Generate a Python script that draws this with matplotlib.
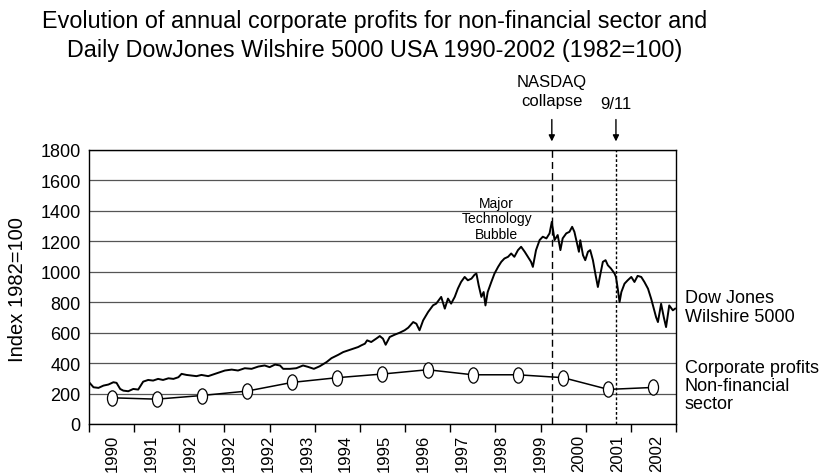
import numpy as np
import matplotlib
matplotlib.use("Agg")
import matplotlib.pyplot as plt
from matplotlib.path import Path

plt.rcParams["font.family"] = ["Liberation Sans", "DejaVu Sans"]

# Daily DowJones Wilshire 5000 (1982=100) (decimal years)
dow_year = [1990.02, 1990.10, 1990.21, 1990.32, 1990.43, 1990.54, 1990.61, 1990.69, 1990.76, 1990.87,
            1990.98, 1991.09, 1991.20, 1991.31, 1991.42, 1991.53, 1991.64, 1991.76, 1991.87, 1991.98,
            1992.05, 1992.16, 1992.27, 1992.38, 1992.49, 1992.64, 1992.79, 1992.90, 1993.01, 1993.16,
            1993.30, 1993.45, 1993.60, 1993.75, 1993.89, 1994.00, 1994.12, 1994.23, 1994.30, 1994.45,
            1994.59, 1994.74, 1994.85, 1994.98, 1995.11, 1995.26, 1995.37, 1995.52, 1995.63, 1995.74,
            1995.85, 1995.96, 1996.03, 1996.11, 1996.16, 1996.25, 1996.36, 1996.44, 1996.51, 1996.57,
            1996.66, 1996.77, 1996.88, 1996.99, 1997.07, 1997.18, 1997.25, 1997.32, 1997.40, 1997.51,
            1997.62, 1997.69, 1997.80, 1997.88, 1997.95, 1998.02, 1998.10, 1998.17, 1998.24, 1998.32,
            1998.39, 1998.47, 1998.54, 1998.58, 1998.63, 1998.69, 1998.74, 1998.78, 1998.83, 1998.91,
            1998.98, 1999.06, 1999.13, 1999.20, 1999.28, 1999.35, 1999.42, 1999.50, 1999.57, 1999.65,
            1999.72, 1999.79, 1999.83, 1999.90, 1999.98, 2000.05, 2000.13, 2000.20, 2000.25, 2000.31,
            2000.38, 2000.44, 2000.49, 2000.57, 2000.64, 2000.70, 2000.75, 2000.80, 2000.85, 2000.88,
            2000.94, 2000.99, 2001.05, 2001.10, 2001.16, 2001.22, 2001.27, 2001.32, 2001.38, 2001.44,
            2001.49, 2001.56, 2001.64, 2001.67, 2001.71, 2001.75, 2001.79, 2001.86, 2001.93, 2002.01,
            2002.08, 2002.15, 2002.23, 2002.30, 2002.38, 2002.45, 2002.52, 2002.56, 2002.60, 2002.67,
            2002.73, 2002.78, 2002.85, 2002.93, 2002.98]
dow_value = [268, 241, 237, 252, 259, 274, 270, 230, 219, 215,
             230, 226, 278, 289, 285, 296, 289, 300, 296, 307,
             329, 322, 318, 314, 322, 314, 329, 340, 351, 357,
             351, 366, 362, 377, 384, 373, 390, 384, 362, 362,
             366, 384, 375, 362, 379, 406, 432, 454, 472, 483,
             494, 505, 516, 527, 549, 538, 560, 577, 560, 520,
             571, 586, 599, 615, 632, 669, 658, 615, 680, 735,
             779, 790, 834, 757, 823, 790, 834, 889, 932, 965,
             943, 954, 980, 987, 910, 834, 866, 778, 866, 932,
             987, 1031, 1064, 1086, 1097, 1119, 1097, 1141, 1163, 1130,
             1097, 1064, 1031, 1141, 1207, 1229, 1218, 1251, 1327, 1207,
             1240, 1141, 1218, 1251, 1261, 1294, 1261, 1195, 1130, 1206,
             1108, 1075, 1130, 1141, 1075, 976, 899, 976, 1064, 1075,
             1042, 1020, 987, 965, 888, 800, 866, 921, 943, 965,
             932, 972, 965, 932, 888, 822, 746, 700, 669, 789,
             700, 636, 778, 746, 757]

# annual corporate profits, non-financial sector (1982=100)
profit_year = [1990.5, 1991.5, 1992.5, 1993.5, 1994.5, 1995.5, 1996.5,
               1997.5, 1998.5, 1999.5, 2000.5, 2001.5, 2002.5]
profit_value = [172, 163, 187, 216, 273, 304, 328, 356, 323, 323, 304, 227, 240]

# category labels as printed under the axis (sic)
x_labels = ["1990", "1991", "1992", "1992", "1992", "1993", "1994", "1995",
            "1996", "1997", "1998", "1999", "2000", "2001", "2002"]
nasdaq_date = 2000.25
sept11_date = 2001.67

fig = plt.figure(figsize=(8.25, 4.77), dpi=100)
ax = fig.add_axes([89 / 825, 1 - 425 / 477, 587 / 825, 274.3 / 477])

ax.plot(dow_year, dow_value, color="black", lw=1.4, zorder=3)

circ = Path.unit_circle()
ellipse = Path(circ.vertices * [0.66, 1.0], circ.codes)
ax.plot(profit_year, profit_value, color="black", lw=1.1, marker=ellipse,
        markersize=11, markerfacecolor="white", markeredgecolor="black",
        markeredgewidth=0.9, zorder=4)

ax.axvline(nasdaq_date, color="black", lw=1.0, ls=(0, (5, 3)), zorder=2)
ax.axvline(sept11_date, color="black", lw=1.0, ls=(0, (2, 1.5)), zorder=2)

ax.set_xlim(1990, 2003)
ax.set_ylim(0, 1800)
ax.set_yticks(np.arange(0, 1801, 200))
ax.yaxis.grid(True, color="#555555", lw=0.9)
ax.set_axisbelow(True)
ax.tick_params(axis="y", length=0, pad=6, labelsize=13)

ax.set_xticks(np.arange(1990, 2004))
ax.set_xticklabels([])
ax.tick_params(axis="x", which="major", length=6, width=1, direction="out")
ax.set_xticks(np.linspace(1990.52, 2002.57, len(x_labels)), minor=True)
ax.set_xticklabels(x_labels, minor=True, rotation=90, fontsize=12)
ax.tick_params(axis="x", which="minor", length=0, pad=7)
for s in ax.spines.values():
    s.set_color("black")
    s.set_linewidth(1.0)

# annotations
trans = ax.get_xaxis_transform()
for d in (nasdaq_date, sept11_date):
    ax.annotate("", xy=(d, 1.02), xytext=(d, 1.12), xycoords=trans, textcoords=trans,
                arrowprops=dict(arrowstyle="-|>", color="black", lw=1.0, mutation_scale=9),
                annotation_clip=False)
ax.text(nasdaq_date, 1.215, "NASDAQ\ncollapse", transform=trans, ha="center", va="center",
        fontsize=12, linespacing=1.3)
ax.text(sept11_date, 1.17, "9/11", transform=trans, ha="center", va="center", fontsize=12)
ax.text(1999.03, 1350, "Major\nTechnology\nBubble", ha="center", va="center",
        fontsize=10, linespacing=1.15)

ax.text(1.015, 0.427, "Dow Jones\nWilshire 5000", transform=ax.transAxes,
        ha="left", va="center", fontsize=13, linespacing=1.1)
ax.text(1.015, 0.14, "Corporate profits\nNon-financial\nsector", transform=ax.transAxes,
        ha="left", va="center", fontsize=13, linespacing=1.1)

fig.text(18 / 825, 1 - 290 / 477, "Index 1982=100", rotation=90, ha="center", va="center",
         fontsize=14.5)
fig.text(375 / 825, 1 - 36 / 477,
         "Evolution of annual corporate profits for non-financial sector and\n"
         "Daily DowJones Wilshire 5000 USA 1990-2002 (1982=100)",
         ha="center", va="center", fontsize=16.8, linespacing=1.35)

fig.savefig("out.png", dpi=100)
